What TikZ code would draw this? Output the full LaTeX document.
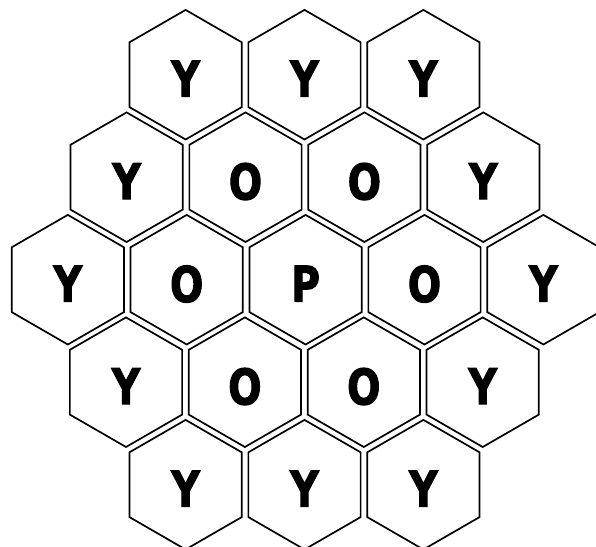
\documentclass[tikz,border=0pt]{standalone}
\usepackage{fontspec}
\usepackage{graphicx}
\setmainfont{DejaVu Sans}
\newfontfamily\cellfont{DejaVu Sans}[BoldFeatures={FakeBold=2.5}]
\usetikzlibrary{shapes.geometric}
\newcommand\cellletter[1]{\raisebox{-4pt}[\height][0pt]{\scalebox{0.8}[1]{#1}}}
\tikzset{
  hexcell/.style={regular polygon, regular polygon sides=6, shape border rotate=30,
    minimum size=129.6pt, inner sep=0pt, outer sep=0pt, draw=black, line width=1.7pt,
    font=\cellfont\bfseries\fontsize{49}{49}\selectfont}
}
\begin{document}
\begin{tikzpicture}[x=1pt,y=-1pt]
\useasboundingbox (0,0) rectangle (596,546);
% row 1
\node[hexcell] (h11) at (185.6,74.7) {\cellletter{Y}};
\node[hexcell] (h12) at (304.5,74.7) {\cellletter{Y}};
\node[hexcell] (h13) at (423.4,74.7) {\cellletter{Y}};
% row 2
\node[hexcell] (h21) at (126.6,177.2) {\cellletter{Y}};
\node[hexcell] (h22) at (245.5,177.2) {\cellletter{O}};
\node[hexcell] (h23) at (364.4,177.2) {\cellletter{O}};
\node[hexcell] (h24) at (483.3,177.2) {\cellletter{Y}};
% row 3
\node[hexcell] (h31) at (67.8,279.7) {\cellletter{Y}};
\node[hexcell] (h32) at (186.7,279.7) {\cellletter{O}};
\node[hexcell] (h33) at (305.6,279.7) {\cellletter{P}};
\node[hexcell] (h34) at (424.5,279.7) {\cellletter{O}};
\node[hexcell] (h35) at (543.4,279.7) {\cellletter{Y}};
% row 4
\node[hexcell] (h41) at (126.0,382.2) {\cellletter{Y}};
\node[hexcell] (h42) at (244.9,382.2) {\cellletter{O}};
\node[hexcell] (h43) at (363.8,382.2) {\cellletter{O}};
\node[hexcell] (h44) at (482.7,382.2) {\cellletter{Y}};
% row 5
\node[hexcell] (h51) at (185.6,484.7) {\cellletter{Y}};
\node[hexcell] (h52) at (304.5,484.7) {\cellletter{Y}};
\node[hexcell] (h53) at (423.4,484.7) {\cellletter{Y}};
\end{tikzpicture}
\end{document}
